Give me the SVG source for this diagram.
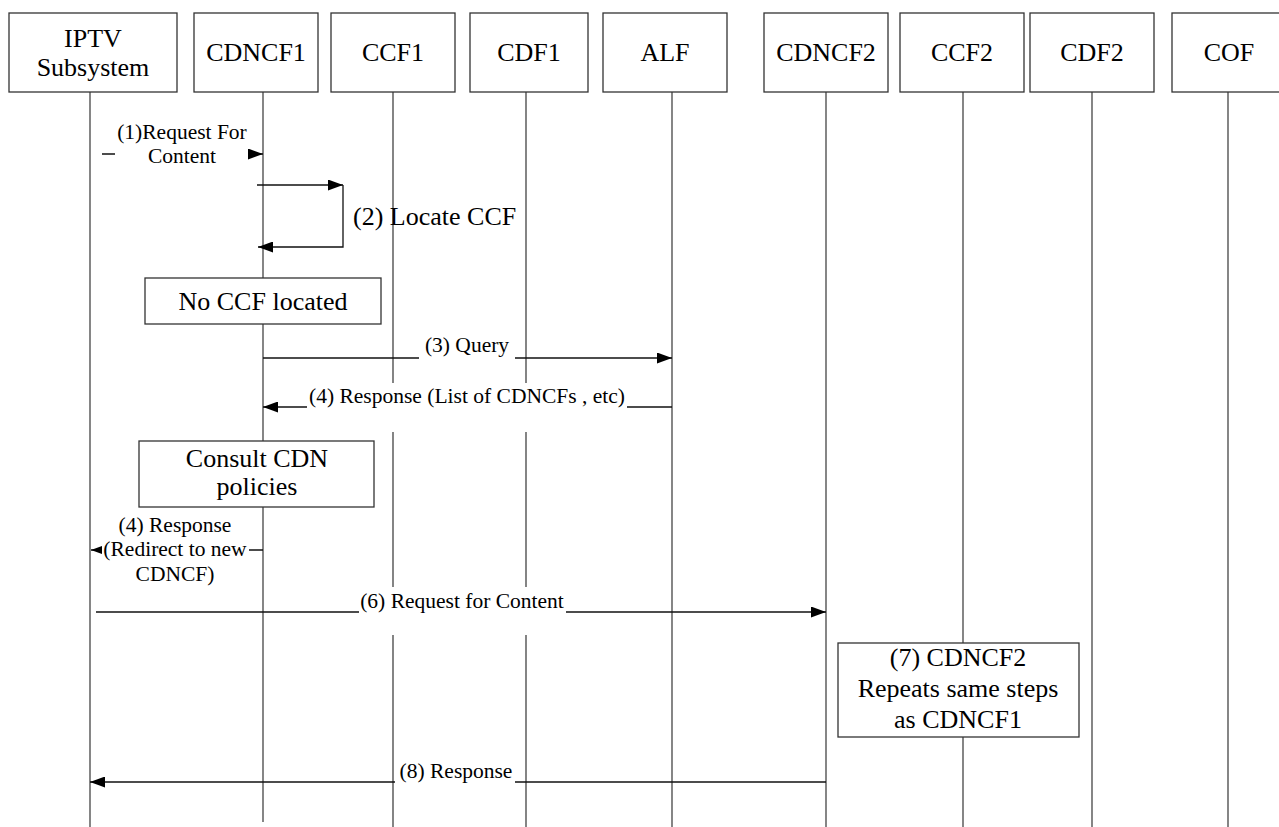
<svg xmlns="http://www.w3.org/2000/svg" width="1279" height="827" viewBox="0 0 1279 827">
<style>
.box{fill:#fff;stroke:#333;stroke-width:1.3}
.life{stroke:#444;stroke-width:1.3;fill:none}
.msg{stroke:#111;stroke-width:1.3;fill:none}
.hd{font-family:"Liberation Serif","Times New Roman",serif;font-size:26px;text-anchor:middle;fill:#000}
.lb{font-family:"Liberation Serif","Times New Roman",serif;font-size:21.5px;text-anchor:middle;fill:#000}
.bg{fill:#fff;stroke:none}
</style>
<defs>
<marker id="ah" markerWidth="15" markerHeight="11" refX="15" refY="5.5" orient="auto" markerUnits="userSpaceOnUse"><path d="M0,0 L15,5.5 L0,11 z" fill="#000"/></marker>
<marker id="ahs" markerWidth="11" markerHeight="8" refX="11" refY="4" orient="auto" markerUnits="userSpaceOnUse"><path d="M0,0 L11,4 L0,8 z" fill="#000"/></marker>
</defs>
<rect width="1279" height="827" fill="#fff"/>
<g id="lifelines">
<path class="life" d="M90,92 V827"/>
<path class="life" d="M263,92 V822"/>
<path class="life" d="M393,92 V383 M393,432 V587 M393,635 V827"/>
<path class="life" d="M526,92 V383 M526,432 V587 M526,635 V827"/>
<path class="life" d="M672,92 V827"/>
<path class="life" d="M826,92 V827"/>
<path class="life" d="M963,92 V827"/>
<path class="life" d="M1092,92 V827"/>
<path class="life" d="M1228,92 V827"/>
</g>
<g id="connectors">
<path class="msg" d="M102,154 H263" marker-end="url(#ah)"/>
<rect class="bg" x="115" y="122" width="133" height="48"/>
<text class="lb" x="182" y="139">(1)Request For</text>
<text class="lb" x="182" y="163">Content</text>
<path class="msg" d="M257,185 H343" marker-end="url(#ah)"/>
<path class="msg" d="M343,185 V247 H258" marker-end="url(#ah)"/>
<text class="hd" x="353" y="225" style="text-anchor:start">(2) Locate CCF</text>
<path class="msg" d="M263,358 H672" marker-end="url(#ah)"/>
<rect class="bg" x="419" y="336" width="96" height="26"/>
<text class="lb" x="467" y="352">(3) Query</text>
<path class="msg" d="M672,407 H263" marker-end="url(#ah)"/>
<rect class="bg" x="307" y="383" width="320" height="49"/>
<text class="lb" x="467" y="403">(4) Response (List of CDNCFs , etc)</text>
<path class="msg" d="M263,550 H91" marker-end="url(#ahs)"/>
<rect class="bg" x="102" y="512" width="147" height="78"/>
<text class="lb" x="175" y="532">(4) Response</text>
<text class="lb" x="175" y="556">(Redirect to new</text>
<text class="lb" x="175" y="581">CDNCF)</text>
<path class="msg" d="M96,612 H826" marker-end="url(#ah)"/>
<rect class="bg" x="359" y="587" width="207" height="48"/>
<text class="lb" x="462" y="608">(6) Request for Content</text>
<path class="msg" d="M826,782 H90" marker-end="url(#ah)"/>
<rect class="bg" x="395" y="760" width="120" height="30"/>
<text class="lb" x="456" y="778">(8) Response</text>
</g>
<g id="note-no-ccf"><rect class="box" x="145" y="278" width="236" height="46"/><text class="hd" x="263" y="310">No CCF located</text></g>
<g id="note-consult"><rect class="box" x="139" y="441" width="235" height="66"/><text class="hd" x="257" y="467">Consult CDN</text><text class="hd" x="257" y="495">policies</text></g>
<g id="note-repeat"><rect class="box" x="838" y="643" width="241" height="94"/><text class="hd" x="958" y="666">(7) CDNCF2</text><text class="hd" x="958" y="697">Repeats same steps</text><text class="hd" x="958" y="728">as CDNCF1</text></g>
<g id="iptv"><rect class="box" x="9" y="13" width="168" height="79"/><text class="hd" x="93" y="47">IPTV</text><text class="hd" x="93" y="76">Subsystem</text></g>
<g id="cdncf1"><rect class="box" x="194" y="13" width="124" height="79"/><text class="hd" x="256" y="61">CDNCF1</text></g>
<g id="ccf1"><rect class="box" x="331" y="13" width="124" height="79"/><text class="hd" x="393" y="61">CCF1</text></g>
<g id="cdf1"><rect class="box" x="470" y="13" width="118" height="79"/><text class="hd" x="529" y="61">CDF1</text></g>
<g id="alf"><rect class="box" x="603" y="13" width="124" height="79"/><text class="hd" x="665" y="61">ALF</text></g>
<g id="cdncf2"><rect class="box" x="764" y="13" width="124" height="79"/><text class="hd" x="826" y="61">CDNCF2</text></g>
<g id="ccf2"><rect class="box" x="900" y="13" width="124" height="79"/><text class="hd" x="962" y="61">CCF2</text></g>
<g id="cdf2"><rect class="box" x="1030" y="13" width="124" height="79"/><text class="hd" x="1092" y="61">CDF2</text></g>
<g id="cof"><rect class="box" x="1172" y="13" width="118" height="79"/><text class="hd" x="1229" y="61">COF</text></g>
</svg>
